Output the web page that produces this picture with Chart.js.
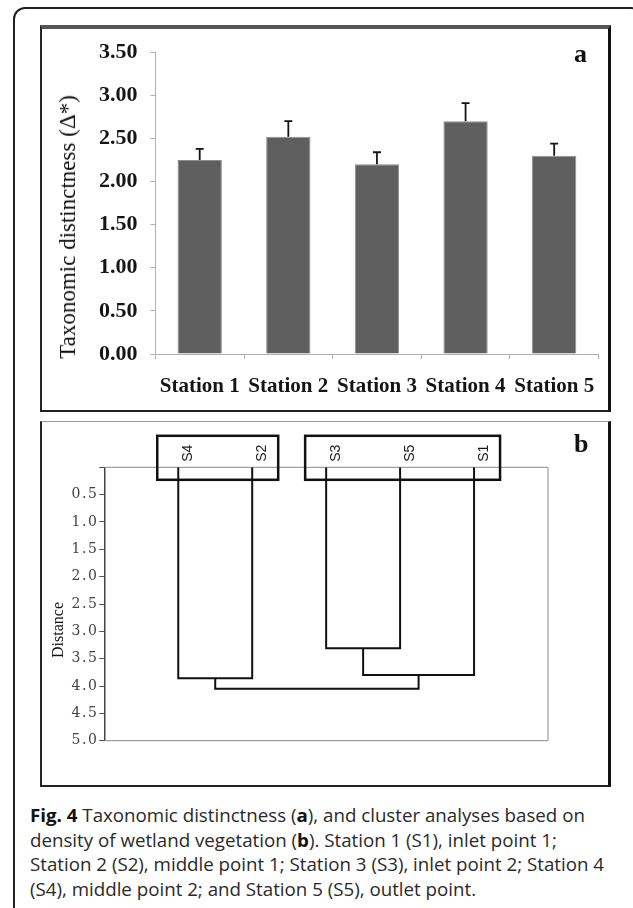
<!DOCTYPE html>
<html>
<head>
<meta charset="utf-8">
<script src="https://cdn.jsdelivr.net/npm/chart.js@4.4.1/dist/chart.umd.min.js"></script>
<style>
  body { margin: 0; width: 633px; height: 908px; overflow: hidden; position: relative; background: #fff; }
  .outer { position: absolute; left: 13px; top: 7px; width: 630px; height: 1000px; border: 2px solid #222; border-radius: 12px; box-sizing: border-box; }
  .panel { position: absolute; box-sizing: border-box; left: 40px; width: 571px; border-left: 2px solid #222; border-right: 3px solid #111; border-bottom: 2px solid #222; }
  #panelA { top: 25px; height: 387px; border-top: 4px solid #555; }
  #panelB { top: 421px; height: 366px; border-top: 1px solid #999; }
  canvas { position: absolute; left: 40px; }
  #barChart { top: 26px; }
  #treeChart { top: 422px; }
  .tag { position: absolute; font: bold 26px "Liberation Serif", serif; line-height: 26px; color: #111; }
  .ytitle { position: absolute; white-space: nowrap; transform: translate(-50%, -50%) rotate(-90deg); font-family: "Liberation Serif", serif; color: #111; }
  #caption { position: absolute; left: 30px; top: 803px; font: 18px "Open Sans", sans-serif; line-height: 24.5px; color: #2a2a2a; white-space: nowrap; transform-origin: 0 0; }
  #caption b { color: #111; }
</style>
</head>
<body>
<div class="outer"></div>
<div class="panel" id="panelA"></div>
<div class="panel" id="panelB"></div>

<canvas id="barChart" width="570" height="385"></canvas>
<canvas id="treeChart" width="570" height="364"></canvas>

<div class="tag" style="left:574px; top:41px;">a</div>
<div class="tag" style="left:574px; top:431px;">b</div>
<div class="ytitle" style="left:68px; top:227px; font-size:23px;">Taxonomic distinctness (Δ*)</div>
<div class="ytitle" style="left:58px; top:630px; font-size:16px;">Distance</div>

<div id="caption">
  <span class="cl"><b>Fig. 4</b> Taxonomic distinctness (<b>a</b>), and cluster analyses based on</span><br>
  <span class="cl">density of wetland vegetation (<b>b</b>). Station 1 (S1), inlet point 1;</span><br>
  <span class="cl" id="widest">Station 2 (S2), middle point 1; Station 3 (S3), inlet point 2; Station 4</span><br>
  <span class="cl">(S4), middle point 2; and Station 5 (S5), outlet point.</span>
</div>

<script>
// --- panel a: taxonomic distinctness ---
const stations = ['Station 1', 'Station 2', 'Station 3', 'Station 4', 'Station 5'];
const distinctness = [2.25, 2.52, 2.20, 2.70, 2.30];
const distinctnessErr = [0.13, 0.18, 0.14, 0.21, 0.14];

// --- panel b: cluster tree (leaf order as drawn) ---
const leafLabels = ['S4', 'S2', 'S3', 'S5', 'S1'];
// each join links two nodes: 0-4 are leaves, 5+ are earlier joins
const joinLeft = [0, 2, 6, 5];
const joinRight = [1, 3, 4, 7];
const joinHeight = [3.86, 3.31, 3.80, 4.05];
// boxed groups, first and last leaf index
const groupStart = [0, 2];
const groupEnd = [1, 4];

Chart.defaults.animation = false;

const errorBars = {
    id: 'errorBars',
    afterDatasetsDraw(chart) {
        const { ctx, scales: { y } } = chart;
        const meta = chart.getDatasetMeta(0);
        ctx.save();
        ctx.strokeStyle = '#151515';
        ctx.lineWidth = 1.8;
        meta.data.forEach((bar, i) => {
            const top = y.getPixelForValue(distinctness[i] + distinctnessErr[i]);
            ctx.beginPath();
            ctx.moveTo(bar.x, bar.y);
            ctx.lineTo(bar.x, top);
            ctx.moveTo(bar.x - 4, top);
            ctx.lineTo(bar.x + 4, top);
            ctx.stroke();
        });
        ctx.restore();
    }
};

new Chart(document.getElementById('barChart'), {
    type: 'bar',
    data: {
        labels: stations,
        datasets: [{
            data: distinctness,
            backgroundColor: '#5f5f5f',
            borderColor: '#8e8e8e',
            borderWidth: 1,
            categoryPercentage: 1,
            barPercentage: 0.5
        }]
    },
    options: {
        responsive: false,
        layout: { padding: { left: 0, right: 8.5, top: 21.7, bottom: 7 } },
        plugins: { legend: { display: false }, tooltip: { enabled: false } },
        scales: {
            x: {
                afterFit: s => { s.height = 50; },
                grid: { drawOnChartArea: false, tickLength: 5, color: '#b0b0b0' },
                border: { color: '#b0b0b0' },
                ticks: { color: '#151515', padding: 15, maxRotation: 0, font: { family: 'Liberation Serif', size: 21, weight: 'bold' } }
            },
            y: {
                min: 0,
                max: 3.5,
                afterFit: s => { s.width = 115.4; },
                grid: { drawOnChartArea: false, tickLength: 5, color: '#b0b0b0' },
                border: { color: '#b0b0b0' },
                ticks: {
                    stepSize: 0.5,
                    padding: 13,
                    color: '#151515',
                    font: { family: 'Liberation Serif', size: 22, weight: 'bold' },
                    callback: v => v.toFixed(2)
                }
            }
        }
    },
    plugins: [errorBars]
});

// build the tree links from the join lists
const nodeX = leafLabels.map((_, i) => i + 1);
const nodeH = leafLabels.map(() => 0);
const links = joinHeight.map((h, k) => {
    const a = joinLeft[k], b = joinRight[k];
    const pts = [
        { x: nodeX[a], y: nodeH[a] },
        { x: nodeX[a], y: h },
        { x: nodeX[b], y: h },
        { x: nodeX[b], y: nodeH[b] }
    ];
    nodeX.push((nodeX[a] + nodeX[b]) / 2);
    nodeH.push(h);
    return pts;
});

const treeDecor = {
    id: 'treeDecor',
    beforeDraw(chart) {
        chart.ctx.letterSpacing = '1.5px';
    },
    beforeDatasetsDraw(chart) {
        const { ctx, chartArea: a } = chart;
        ctx.save();
        ctx.strokeStyle = '#8a8a8a';
        ctx.lineWidth = 1;
        ctx.beginPath();
        ctx.moveTo(a.left, a.top);
        ctx.lineTo(a.right, a.top);
        ctx.lineTo(a.right, a.bottom);
        ctx.lineTo(a.left, a.bottom);
        ctx.stroke();
        ctx.restore();
    },
    afterDraw(chart) {
        const { ctx, chartArea: a, scales: { x } } = chart;
        ctx.save();
        ctx.letterSpacing = '0px';
        ctx.fillStyle = '#1a1a1a';
        ctx.font = '14px "Liberation Sans", Arial, sans-serif';
        ctx.textAlign = 'center';
        ctx.textBaseline = 'middle';
        leafLabels.forEach((lab, i) => {
            ctx.save();
            ctx.translate(x.getPixelForValue(i + 1) + 10, a.top - 14);
            ctx.rotate(-Math.PI / 2);
            ctx.fillText(lab, 0, 0);
            ctx.restore();
        });
        ctx.strokeStyle = '#111';
        ctx.lineWidth = 2.5;
        groupStart.forEach((s, g) => {
            const left = x.getPixelForValue(s + 1) - 21;
            const right = x.getPixelForValue(groupEnd[g] + 1) + 26;
            ctx.strokeRect(left, a.top - 31.5, right - left, 44);
        });
        ctx.restore();
        ctx.letterSpacing = '0px';
    }
};

new Chart(document.getElementById('treeChart'), {
    type: 'line',
    data: {
        datasets: links.map(pts => ({
            data: pts,
            borderColor: '#111',
            borderWidth: 2,
            pointRadius: 0,
            tension: 0,
            fill: false
        }))
    },
    options: {
        responsive: false,
        layout: { padding: { left: 0, right: 62, top: 45.3, bottom: 45.3 } },
        plugins: { legend: { display: false }, tooltip: { enabled: false } },
        scales: {
            x: { type: 'linear', min: 0, max: leafLabels.length + 1, display: false },
            y: {
                type: 'linear',
                min: 0,
                max: 5,
                reverse: true,
                afterFit: s => { s.width = 64.3; },
                grid: { drawOnChartArea: false, tickLength: 5, color: '#555' },
                border: { color: '#444', width: 1.5 },
                ticks: {
                    stepSize: 0.5,
                    padding: 1,
                    color: '#444',
                    font: { family: 'DejaVu Serif', size: 14 },
                    callback: v => (v === 0 ? '' : v.toFixed(1))
                }
            }
        }
    },
    plugins: [treeDecor]
});

// squeeze the caption so its widest line spans the same width as the figure text
const cap = document.getElementById('caption');
const w = document.getElementById('widest').getBoundingClientRect().width;
cap.style.transform = 'scaleX(' + (574 / w) + ')';
</script>
</body>
</html>
